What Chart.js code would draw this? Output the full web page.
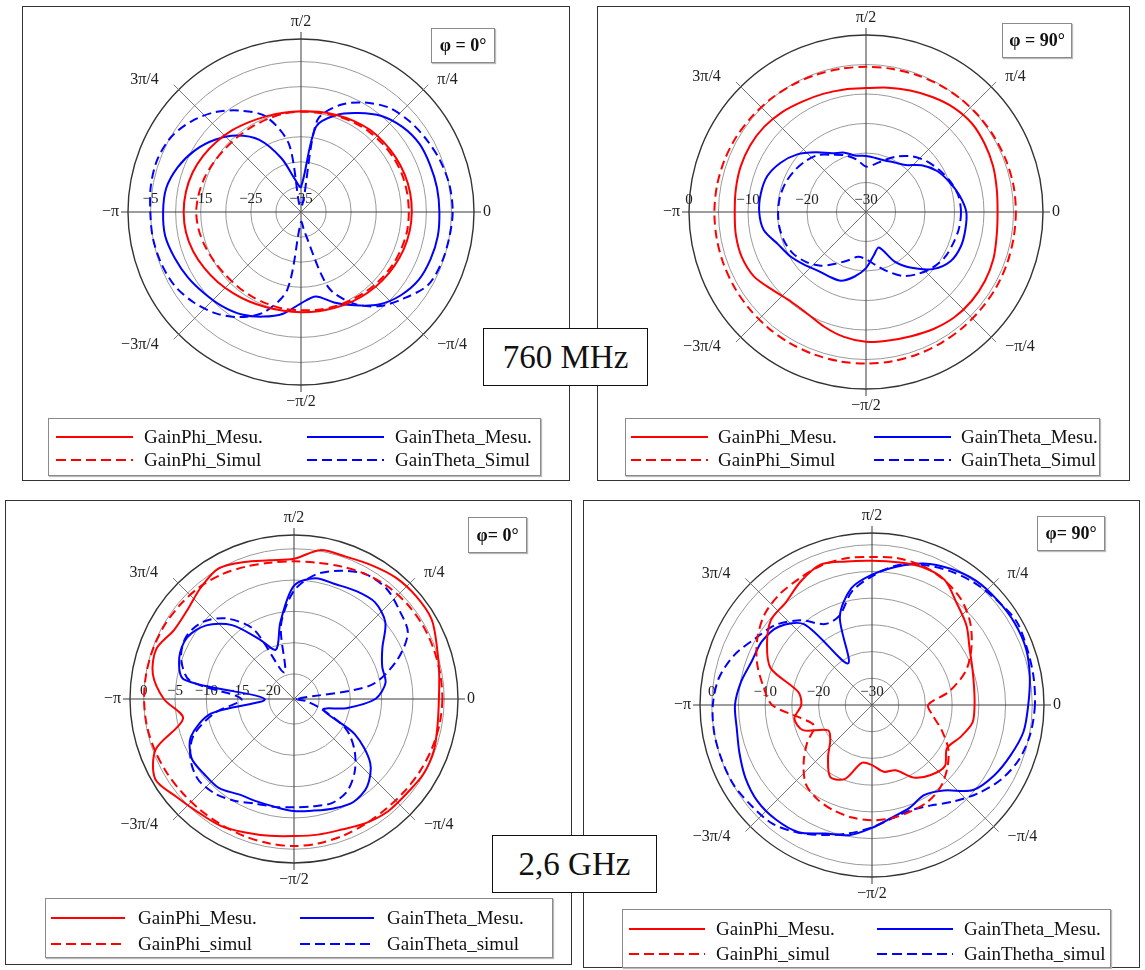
<!DOCTYPE html>
<html><head><meta charset="utf-8">
<script src="https://cdn.jsdelivr.net/npm/chart.js@4.4.1/dist/chart.umd.min.js"></script>
<style>
html,body{margin:0;padding:0;background:#fff;}
body{width:1145px;height:970px;position:relative;overflow:hidden;font-family:"Liberation Serif","Times New Roman",serif;color:#111;}
.panel{position:absolute;border:1px solid #333;box-sizing:border-box;}
.phi{position:absolute;border:1px solid #8a8a8a;box-shadow:1px 1px 1px #bbb;background:#fff;font-weight:bold;font-size:18px;display:flex;align-items:center;justify-content:center;box-sizing:border-box;white-space:nowrap;}
.legend{position:absolute;border:1px solid #8a8a8a;box-shadow:1px 1px 1px #bbb;background:#fff;box-sizing:border-box;}
.legend .txt{position:absolute;font-size:19px;line-height:20px;white-space:nowrap;transform:translateY(-50%);}
.legend svg{position:absolute;overflow:visible;}
.freq{position:absolute;border:1px solid #111;background:#fff;font-size:33px;display:flex;align-items:center;justify-content:center;box-sizing:border-box;white-space:nowrap;}
</style></head>
<body>
<script>
// ---------- categories (angle in degrees, counter-clockwise from 0) ----------
const ANGLES = [0,10,20,30,40,50,60,70,80,90,100,110,120,130,140,150,160,170,180,190,200,210,220,230,240,250,260,270,280,290,300,310,320,330,340,350];
const ANGLE_TICKS = [0,45,90,135,180,225,270,315];
const ANGLE_TEXT = ['0','π/4','π/2','3π/4','−π','−3π/4','−π/2','−π/4'];

// ---------- 760 MHz, phi = 0 deg (dB) ----------
const p1PhiMesu   = [-12.9,-12.9,-13.0,-13.2,-13.4,-13.6,-14.0,-14.4,-14.7,-14.9,-14.9,-14.7,-14.3,-13.7,-13.1,-12.5,-12.0,-11.7,-11.6,-11.7,-12.1,-12.7,-13.3,-13.9,-14.4,-14.8,-15.0,-15.0,-14.9,-14.7,-14.4,-14.1,-13.8,-13.5,-13.2,-13.0];
const p1PhiSimul  = [-13.5,-13.5,-13.5,-13.6,-13.8,-14.0,-14.3,-14.6,-14.9,-15.0,-15.1,-15.3,-15.4,-15.4,-15.3,-15.0,-14.6,-14.3,-14.1,-14.3,-14.7,-15.1,-15.4,-15.5,-15.5,-15.5,-15.4,-15.4,-15.2,-15.0,-14.8,-14.5,-14.2,-13.9,-13.7,-13.5];
const p1ThetaMesu = [-7.4,-7.45,-7.6,-7.75,-8.6,-10.0,-12.2,-14.4,-17.7,-30.0,-28.5,-23.6,-18.4,-15.1,-12.6,-10.5,-8.85,-7.7,-7.5,-7.5,-8.2,-8.95,-9.8,-10.5,-11.4,-12.8,-14.4,-16.8,-17.9,-15.8,-13.5,-10.9,-9.1,-7.9,-7.5,-7.3];
const p1ThetaSimul= [-4.75,-4.9,-5.4,-6.1,-6.8,-7.8,-9.8,-12.3,-16.5,-34.0,-21.3,-14.8,-11.7,-8.9,-6.7,-5.1,-4.5,-4.6,-4.95,-5.0,-5.3,-5.8,-7.0,-8.6,-10.8,-13.8,-19.3,-33.0,-31.0,-19.0,-13.9,-10.5,-8.2,-5.8,-5.2,-5.0];
const p1Rings = [-35,-30,-25,-20,-15,-10,-5,-0.5];
const p1TickLabels = [-5,-15,-25,-35];

// ---------- 760 MHz, phi = 90 deg ----------
const p2PhiMesu   = [-7.7,-7.5,-7.1,-6.8,-6.6,-6.9,-7.5,-8.1,-8.6,-9.0,-8.9,-8.7,-8.4,-7.9,-7.5,-7.35,-7.4,-7.6,-7.75,-7.6,-7.6,-8.1,-9.4,-10.2,-10.1,-9.3,-8.5,-8.0,-7.9,-7.6,-7.1,-6.7,-6.6,-6.7,-7.0,-7.5];
const p2PhiSimul  = [-4.6,-4.6,-4.7,-4.8,-4.9,-5.0,-5.1,-5.25,-5.35,-5.4,-5.35,-5.25,-5.1,-4.95,-4.8,-4.6,-4.45,-4.35,-4.3,-4.3,-4.3,-4.3,-4.3,-4.3,-4.3,-4.3,-4.3,-4.3,-4.3,-4.35,-4.4,-4.45,-4.5,-4.5,-4.55,-4.6];
const p2ThetaMesu = [-13.0,-13.9,-15.0,-16.1,-17.7,-19.6,-20.3,-20.7,-20.7,-20.5,-20.3,-19.3,-18.5,-16.8,-14.8,-13.3,-12.2,-11.9,-11.9,-12.4,-14.1,-15.1,-16.2,-17.1,-17.4,-17.6,-18.9,-20.5,-22.5,-23.6,-20.3,-17.6,-15.0,-13.4,-12.9,-12.9];
const p2ThetaSimul= [-13.9,-14.1,-14.8,-15.7,-16.6,-17.7,-19.1,-20.6,-21.8,-22.3,-21.0,-19.8,-18.8,-17.4,-16.6,-16.0,-15.5,-15.2,-15.1,-15.1,-15.3,-15.8,-16.8,-18.1,-19.9,-21.3,-22.3,-22.0,-20.9,-19.3,-17.5,-16.3,-15.3,-14.6,-14.3,-14.0];
const p2Rings = [-30,-25,-20,-15,-10,-5,0];
const p2TickLabels = [0,-10,-20,-30];

// ---------- 2,6 GHz, phi = 0 deg ----------
const p3PhiMesu   = [-0.85,-0.45,0.3,1.4,1.5,1.3,0.7,0.2,0.15,-1.6,-1.5,-0.7,0.1,-0.8,-1.8,-1.9,-0.6,-1.1,-3.2,-6.0,-0.5,1.6,0.4,-0.3,-0.6,-1.3,-1.8,-2.1,-2.0,-1.8,-1.1,-0.6,-0.5,-0.1,-0.2,-0.7];
const p3PhiSimul  = [-0.3,-0.3,-0.3,-0.3,-0.4,-0.6,-1.0,-1.5,-1.9,-2.0,-1.9,-1.5,-1.0,-0.6,-0.4,-0.2,-0.1,-0.05,-0.05,-0.1,-0.3,-0.5,-0.7,-0.8,-0.8,-0.7,-0.6,-0.5,-0.6,-0.8,-1.0,-1.1,-1.0,-0.8,-0.6,-0.4];
const p3ThetaMesu = [-11.0,-9.15,-9.0,-7.7,-4.95,-3.85,-4.1,-4.5,-4.4,-5.9,-11.5,-15.6,-13.0,-8.6,-5.7,-4.3,-4.5,-6.2,-19.3,-10.5,-6.5,-5.1,-5.3,-5.4,-6.4,-6.6,-6.5,-6.1,-5.9,-5.4,-5.0,-5.8,-8.1,-12.8,-19.0,-15.5];
const p3ThetaSimul= [-23.5,-11.7,-6.7,-3.0,-2.0,-1.0,-1.0,-2.2,-3.8,-6.7,-12.0,-19.5,-11.2,-7.2,-4.9,-4.1,-4.8,-7.1,-15.6,-11.1,-6.9,-4.9,-4.0,-4.3,-5.2,-6.2,-6.5,-6.7,-6.6,-6.3,-7.0,-8.9,-11.4,-14.4,-19.3,-22.0];
const p3Rings = [-24,-20,-15,-10,-5,0,2.2];
const p3TickLabels = [0,-5,-10,-15,-20];

// ---------- 2,6 GHz, phi = 90 deg ----------
const p4PhiMesu   = [-10.8,-10.6,-10.0,-8.9,-6.9,-5.25,-2.9,-2.5,-2.85,-3.0,-2.7,-2.0,-3.3,-4.9,-5.3,-7.3,-9.8,-16.0,-16.75,-15.25,-16.25,-20.5,-19.8,-17.2,-14.4,-15.3,-19.0,-18.75,-17.3,-17.0,-14.3,-12.9,-12.2,-13.8,-12.4,-10.9];
const p4PhiSimul  = [-19.5,-15.3,-11.3,-8.5,-6.0,-4.1,-3.0,-2.3,-2.1,-2.3,-2.1,-2.2,-2.7,-3.0,-3.7,-5.2,-7.1,-9.3,-11.3,-16.3,-18.5,-16.0,-13.3,-10.7,-9.6,-9.0,-8.6,-8.4,-8.5,-8.8,-9.1,-10.0,-11.6,-13.5,-16.1,-18.4];
const p4ThetaMesu = [-0.75,0.0,0.7,0.8,0.6,0.35,-0.55,-1.8,-3.7,-5.6,-7.8,-12.4,-21.0,-10.3,-7.2,-6.2,-6.05,-5.1,-4.35,-4.3,-3.6,-2.65,-2.0,-2.0,-2.5,-4.4,-5.25,-7.0,-8.6,-9.5,-10.5,-9.1,-5.25,-3.6,-2.4,-1.2];
const p4ThetaSimul= [0.5,0.7,0.9,1.25,0.5,-0.15,-1.0,-2.1,-3.5,-5.9,-8.4,-12.2,-12.5,-9.3,-6.6,-4.9,-2.6,-0.9,-0.2,0.0,-0.06,-0.1,-0.6,-1.0,-2.4,-4.1,-5.6,-7.1,-8.45,-9.0,-8.25,-6.4,-4.2,-2.1,-0.6,0.15];
const p4Rings = [-30,-25,-20,-15,-10,-5,0,2.2];
const p4TickLabels = [0,-10,-20,-30];

const namesTop = ['GainPhi_Mesu.','GainPhi_Simul','GainTheta_Mesu.','GainTheta_Simul'];
const namesP3  = ['GainPhi_Mesu.','GainPhi_simul','GainTheta_Mesu.','GainTheta_simul'];
const namesP4  = ['GainPhi_Mesu.','GainPhi_simul','GainTheta_Mesu.','GainThetha_simul'];

const RED = 'rgb(255,0,0)', BLUE = 'rgb(0,0,255)';

// radar index i runs clockwise from the right; math angle = -10*i
function toRadar(arr){ return arr.map((_, i) => arr[(arr.length - i) % arr.length]); }
function fmt(v){ return v < 0 ? '\u2212' + Math.abs(v) : String(v); }

function makeDecor(P){
  return {
    id: 'polarDecor',
    beforeDatasetsDraw(chart){
      const s = chart.scales.r, ctx = chart.ctx;
      const cx = s.xCenter, cy = s.yCenter, R = s.drawingArea;
      ctx.save();
      ANGLE_TICKS.forEach((deg, k) => {
        const a = deg * Math.PI / 180, ext = R + 7;
        ctx.beginPath();
        ctx.moveTo(cx, cy);
        ctx.lineTo(cx + ext * Math.cos(a), cy - ext * Math.sin(a));
        ctx.strokeStyle = k % 2 === 0 ? '#3a3a3a' : '#777';
        ctx.lineWidth = 1;
        ctx.stroke();
      });
      ctx.font = '15px "Liberation Serif"';
      ctx.fillStyle = '#222';
      ctx.textAlign = 'center';
      ctx.textBaseline = 'middle';
      P.tickLabels.forEach(v => {
        const d = s.getDistanceFromCenterForValue(v);
        ctx.fillText(fmt(v), cx - d, cy + P.tickDy);
      });
      ctx.font = '16px "Liberation Serif"';
      ANGLE_TICKS.forEach((deg, k) => {
        const a = deg * Math.PI / 180;
        const ax = cx + R * Math.cos(a), ay = cy - R * Math.sin(a);
        let x = ax, y = ay, al = 'center';
        if (deg === 0) { x = ax + 9; al = 'left'; }
        else if (deg === 180) { x = ax - 9; al = 'right'; }
        else if (deg === 90) { y = ay - 17; }
        else if (deg === 270) { y = ay + 17; }
        else if (deg === 45) { x = ax + 14; y = ay - 10; al = 'left'; }
        else if (deg === 315) { x = ax + 14; y = ay + 10; al = 'left'; }
        else if (deg === 135) { x = ax - 20; y = ay - 10; al = 'right'; }
        else if (deg === 225) { x = ax - 20; y = ay + 10; al = 'right'; }
        ctx.textAlign = al;
        ctx.fillText(ANGLE_TEXT[k], x, y);
      });
      ctx.restore();
    }
  };
}

function el(tag, cls, css, html){
  const e = document.createElement(tag);
  if (cls) e.className = cls;
  Object.assign(e.style, css || {});
  if (html !== undefined) e.textContent = html;
  document.body.appendChild(e);
  return e;
}
const px = v => v + 'px';

function buildPanel(P){
  const b = P.box;
  el('div', 'panel', {left: px(b.x), top: px(b.y), width: px(b.w), height: px(b.h)});
  const cv = document.createElement('canvas');
  cv.width = b.w; cv.height = b.h;
  Object.assign(cv.style, {position: 'absolute', left: px(b.x), top: px(b.y), width: px(b.w), height: px(b.h)});
  document.body.appendChild(cv);
  const pl = P.cx - P.R - b.x, pt = P.cy - P.R - b.y;
  const pr = b.w - pl - 2 * P.R, pb = b.h - pt - 2 * P.R;
  const datasets = P.series.map(s => ({
    label: s.name, data: toRadar(s.values),
    borderColor: s.color, backgroundColor: s.color,
    borderWidth: 2, borderDash: s.dashed ? [9, 5] : [],
    fill: false, pointRadius: 0, pointHoverRadius: 0, tension: 0.3, clip: false
  }));
  new Chart(cv, {
    type: 'radar',
    data: { labels: toRadar(ANGLES).map(a => a + '°'), datasets },
    options: {
      responsive: false, animation: false, events: [],
      layout: { padding: { left: pl, top: pt, right: pr, bottom: pb } },
      plugins: { legend: { display: false }, tooltip: { enabled: false } },
      scales: { r: {
        min: P.rings[0], max: P.rings[P.rings.length - 1], startAngle: 90,
        afterBuildTicks: sc => { sc.ticks = P.rings.map(v => ({ value: v })); },
        ticks: { display: false },
        pointLabels: { display: false },
        angleLines: { display: false },
        grid: {
          circular: true,
          color: c => (c.tick && c.tick.value === P.rings[P.rings.length - 1]) ? '#333' : '#9a9a9a',
          lineWidth: c => (c.tick && c.tick.value === P.rings[P.rings.length - 1]) ? 1.4 : 1
        }
      } }
    },
    plugins: [makeDecor(P)]
  });
  el('div', 'phi', {left: px(P.phi.x), top: px(P.phi.y), width: px(P.phi.w), height: px(P.phi.h)}, P.phi.text);
  const L = P.legend;
  const lg = el('div', 'legend', {left: px(L.x), top: px(L.y), width: px(L.w), height: px(L.h)});
  P.series.forEach((s, i) => {
    const col = i < 2 ? 0 : 1, row = i % 2;
    const lx = L.cols[col], ly = L.rows[row];
    const len = L.lineLen;
    const svgNS = 'http://www.w3.org/2000/svg';
    const svg = document.createElementNS(svgNS, 'svg');
    svg.setAttribute('width', len); svg.setAttribute('height', 4);
    svg.style.left = px(lx); svg.style.top = px(ly - 2);
    const ln = document.createElementNS(svgNS, 'line');
    ln.setAttribute('x1', 0); ln.setAttribute('y1', 2); ln.setAttribute('x2', len); ln.setAttribute('y2', 2);
    ln.setAttribute('stroke', s.color); ln.setAttribute('stroke-width', 2);
    if (s.dashed) ln.setAttribute('stroke-dasharray', '10,5');
    svg.appendChild(ln);
    lg.appendChild(svg);
    const t = document.createElement('span');
    t.className = 'txt';
    t.textContent = s.name;
    t.style.left = px(lx + L.textDx); t.style.top = px(ly);
    lg.appendChild(t);
  });
}

function series(names, phiM, phiS, thM, thS){
  return [
    { name: names[0], values: phiM, color: RED, dashed: false },
    { name: names[1], values: phiS, color: RED, dashed: true },
    { name: names[2], values: thM, color: BLUE, dashed: false },
    { name: names[3], values: thS, color: BLUE, dashed: true }
  ];
}

const PANELS = [
  { box: {x: 22, y: 6, w: 548, h: 475}, cx: 301, cy: 212, R: 173, rings: p1Rings, tickLabels: p1TickLabels, tickDy: -13,
    phi: {x: 431, y: 28, w: 64, h: 35, text: 'φ = 0°'},
    legend: {x: 48, y: 418, w: 493, h: 58, cols: [7, 258], rows: [18, 41], lineLen: 77, textDx: 88},
    series: series(namesTop, p1PhiMesu, p1PhiSimul, p1ThetaMesu, p1ThetaSimul) },
  { box: {x: 597, y: 6, w: 533, h: 475}, cx: 866, cy: 212, R: 177, rings: p2Rings, tickLabels: p2TickLabels, tickDy: -12,
    phi: {x: 1002, y: 23, w: 70, h: 35, text: 'φ = 90°'},
    legend: {x: 625, y: 418, w: 475, h: 58, cols: [5, 248], rows: [18, 41], lineLen: 77, textDx: 87},
    series: series(namesTop, p2PhiMesu, p2PhiSimul, p2ThetaMesu, p2ThetaSimul) },
  { box: {x: 5, y: 500, w: 567, h: 465}, cx: 294, cy: 699, R: 164, rings: p3Rings, tickLabels: p3TickLabels, tickDy: -8,
    phi: {x: 468, y: 517, w: 59, h: 36, text: 'φ= 0°'},
    legend: {x: 45, y: 898, w: 508, h: 60, cols: [5, 254], rows: [19, 45], lineLen: 74, textDx: 87},
    series: series(namesP3, p3PhiMesu, p3PhiSimul, p3ThetaMesu, p3ThetaSimul) },
  { box: {x: 583, y: 500, w: 557, h: 468}, cx: 872, cy: 705, R: 172, rings: p4Rings, tickLabels: p4TickLabels, tickDy: -13,
    phi: {x: 1037, y: 516, w: 68, h: 35, text: 'φ= 90°'},
    legend: {x: 622, y: 909, w: 489, h: 59, cols: [6, 254], rows: [19, 44], lineLen: 76, textDx: 87},
    series: series(namesP4, p4PhiMesu, p4PhiSimul, p4ThetaMesu, p4ThetaSimul) }
];

PANELS.forEach(buildPanel);

el('div', 'freq', {left: '483px', top: '328px', width: '165px', height: '58px'}, '760 MHz');
el('div', 'freq', {left: '492px', top: '835px', width: '165px', height: '58px'}, '2,6 GHz');
</script>
</body></html>
